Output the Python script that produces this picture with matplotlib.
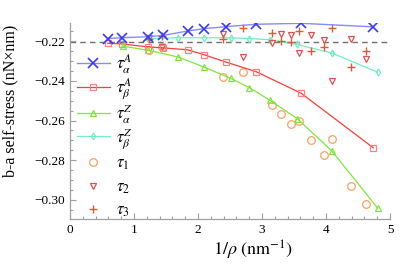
import matplotlib
matplotlib.use("Agg")
import matplotlib.pyplot as plt
from matplotlib.ticker import MultipleLocator, FuncFormatter

plt.rcParams['font.family'] = ['Liberation Serif', 'DejaVu Serif']
plt.rcParams['mathtext.fontset'] = 'stix'

# A-series (tau_alpha^A, tau_beta^A)
x_A = [0.589, 0.808, 1.214, 1.458, 1.839, 2.098, 2.4375, 2.906, 3.61, 4.74]
tau_alpha_A = [-0.2186, -0.2182, -0.2177, -0.2170, -0.2148, -0.2136, -0.2126, -0.2114, -0.2109, -0.2127]
tau_beta_A = [-0.2210, -0.2213, -0.2228, -0.2233, -0.2243, -0.2268, -0.2305, -0.2353, -0.2462, -0.2738]

# Z-series
x_Za = [0.833, 1.224, 1.683, 2.094, 2.511, 2.802, 3.125, 3.552, 4.089, 4.808]
tau_alpha_Z = [-0.2225, -0.2245, -0.2279, -0.2330, -0.2387, -0.2434, -0.2498, -0.2591, -0.2753, -0.3043]
x_Zb = [1.224, 1.683, 2.094, 2.511, 2.802, 3.125, 3.552, 4.089, 4.808]
tau_beta_Z = [-0.2186, -0.2182, -0.2182, -0.2182, -0.2186, -0.2192, -0.2216, -0.2259, -0.2356]

# scattered series
x_tau = [1.227, 1.438, 2.391, 2.708, 3.153, 3.302, 3.458, 3.575, 3.771, 3.969, 4.089, 4.388, 4.625]
tau_1 = [-0.2243, -0.2231, -0.2382, -0.2356, -0.2523, -0.2566, -0.2617, -0.2605, -0.2699, -0.2775, -0.2694, -0.2929, -0.3023]
tau_2 = [-0.2185, -0.2228, -0.2165, -0.2279, -0.2208, -0.2165, -0.2169, -0.2261, -0.2169, -0.2192, -0.2398, -0.2186, -0.2288]
tau_3 = [-0.2187, -0.2174, -0.2187, -0.2131, -0.2159, -0.2197, -0.2206, -0.2148, -0.2250, -0.2230, -0.2131, -0.2330, -0.2250]

ref_value = -0.2204

fig = plt.figure(figsize=(4.05, 2.65), dpi=100)
ax = fig.add_axes([70/405, 1-219.3/265, 320/405, (219.3-22.7)/265])

ax.axhline(ref_value, color='#707070', lw=1.0, ls=(0, (4, 3)), zorder=1)

h1, = ax.plot(x_A, tau_alpha_A, color='#8a8aff', lw=1.0, marker='x', ms=6.5,
              mec='#3a3aff', mew=1.2, label=r'$\tau_\alpha^A$', zorder=5)
h2, = ax.plot(x_A, tau_beta_A, color='#ff3c3c', lw=0.9, marker='s', ms=3.8,
              mfc='none', mec='#ff8080', mew=0.9, label=r'$\tau_\beta^A$', zorder=4)
h3, = ax.plot(x_Za, tau_alpha_Z, color='#7ee83a', lw=0.9, marker='^', ms=4.5,
              mfc='none', mec='#7ee83a', mew=0.9, label=r'$\tau_\alpha^Z$', zorder=4)
h4, = ax.plot(x_Zb, tau_beta_Z, color='#6ff0c0', lw=0.9, marker='d', ms=3.5,
              mfc='none', mec='#6ff0c0', mew=0.9, label=r'$\tau_\beta^Z$', zorder=3)
h5, = ax.plot(x_tau, tau_1, ls='none', marker='o', ms=5.5, mfc='none',
              mec='#ffa060', mew=0.9, label=r'$\tau_1$', zorder=3)
h6, = ax.plot(x_tau, tau_2, ls='none', marker='v', ms=5.0, mfc='none',
              mec='#e05050', mew=0.9, label=r'$\tau_2$', zorder=3)
h7, = ax.plot(x_tau, tau_3, ls='none', marker='+', ms=6.0,
              mec='#d0603a', mew=1.0, label=r'$\tau_3$', zorder=3)

ax.set_xlim(0, 5)
ax.set_ylim(-0.3099, -0.2106)

for s in ['top', 'right']:
    ax.spines[s].set_visible(False)
for s in ['left', 'bottom']:
    ax.spines[s].set_color('#a0a0a0')
    ax.spines[s].set_linewidth(0.9)

ax.xaxis.set_major_locator(MultipleLocator(1))
ax.xaxis.set_minor_locator(MultipleLocator(0.2))
ax.yaxis.set_major_locator(MultipleLocator(0.02))
ax.yaxis.set_minor_locator(MultipleLocator(0.005))
ax.yaxis.set_major_formatter(FuncFormatter(lambda v, p: ('%.2f' % v).replace('-', '\u2212')))
ax.xaxis.set_major_formatter(FuncFormatter(lambda v, p: '%d' % round(v)))
ax.tick_params(which='both', direction='in', color='#a0a0a0', labelsize=9.5, width=0.8)
ax.tick_params(which='major', length=4)
ax.tick_params(which='minor', length=2)

ax.set_xlabel(r'$1/\rho\ (\mathrm{nm}^{-1})$', fontsize=13, labelpad=2)
ax.xaxis.set_label_coords(0.57, -0.1)
ax.set_ylabel('b-a self-stress (nN\u00d7nm)', fontsize=11.5)
ax.yaxis.set_label_coords(-0.16, 0.6)

leg_kw = dict(loc='upper left', frameon=False, fontsize=12, handlelength=2.0,
              handletextpad=0.35, borderpad=0.2, borderaxespad=0.2)
leg1 = ax.legend(handles=[h1, h2, h3, h4], bbox_to_anchor=(0.0, 0.884),
                 labelspacing=0.04, **leg_kw)
ax.add_artist(leg1)
leg2 = ax.legend(handles=[h5, h6, h7], bbox_to_anchor=(0.0, 0.357),
                 labelspacing=0.43, **leg_kw)

fig.savefig('out.png', dpi=100)
